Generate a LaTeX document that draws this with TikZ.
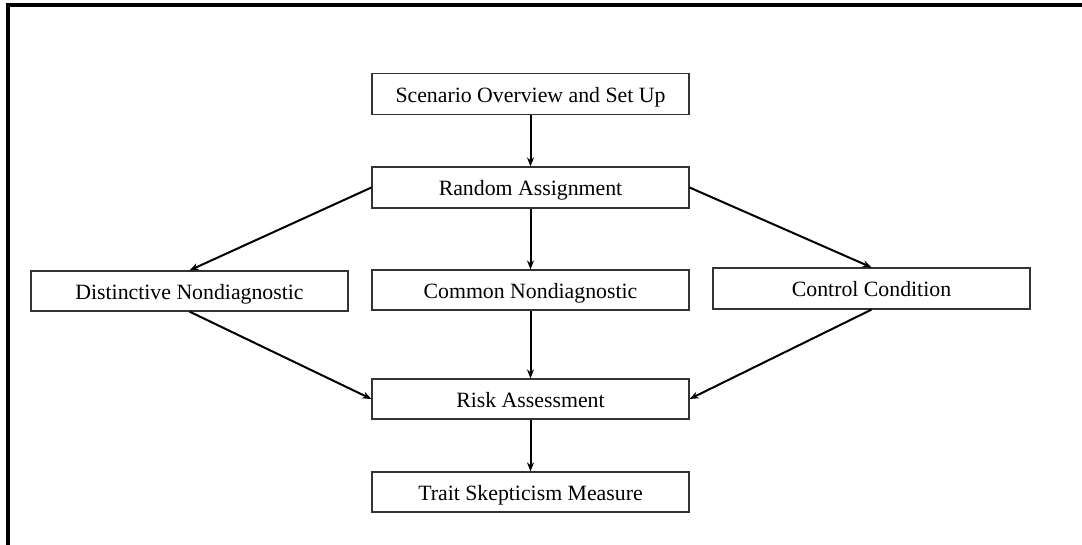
\documentclass[tikz,border=0pt]{standalone}
\usepackage{fontspec}
\setmainfont{Liberation Serif}
\usetikzlibrary{arrows.meta}
\begin{document}
\begin{tikzpicture}[x=1pt,y=-1pt,
  stepbox/.style={draw=black!80,line width=1.2pt,minimum width=317pt,minimum height=41pt,inner sep=0pt,text height=19pt,text depth=3pt,font=\fontsize{21.8}{24}\selectfont},
  conn/.style={line width=2pt,-{Stealth[length=9pt,width=7pt]}}]
\useasboundingbox (0,0) rectangle (1082,544);
\draw[line width=3.2pt] (8,560) -- (8,5) -- (1100,5);
\node[stepbox] (scen) at (530.5,94) {Scenario Overview and Set Up};
\node[stepbox] (rand) at (530.5,187.5) {Random Assignment};
\node[stepbox,minimum height=40pt] (dist) at (189.5,291) {Distinctive Nondiagnostic};
\node[stepbox,minimum height=40pt] (comm) at (530.5,290) {Common Nondiagnostic};
\node[stepbox] (ctrl) at (871.5,288.5) {Control Condition};
\node[stepbox,minimum height=40pt] (risk) at (530.5,399) {Risk Assessment};
\node[stepbox,minimum height=40pt] (trait) at (530.5,492) {Trait Skepticism Measure};
\draw[conn] (scen.south) -- (rand.north);
\draw[conn] (rand.west) -- (dist.north);
\draw[conn] (rand.south) -- (comm.north);
\draw[conn] (rand.east) -- (ctrl.north);
\draw[conn] (dist.south) -- (risk.west);
\draw[conn] (comm.south) -- (risk.north);
\draw[conn] (ctrl.south) -- (risk.east);
\draw[conn] (risk.south) -- (trait.north);
\end{tikzpicture}
\end{document}
